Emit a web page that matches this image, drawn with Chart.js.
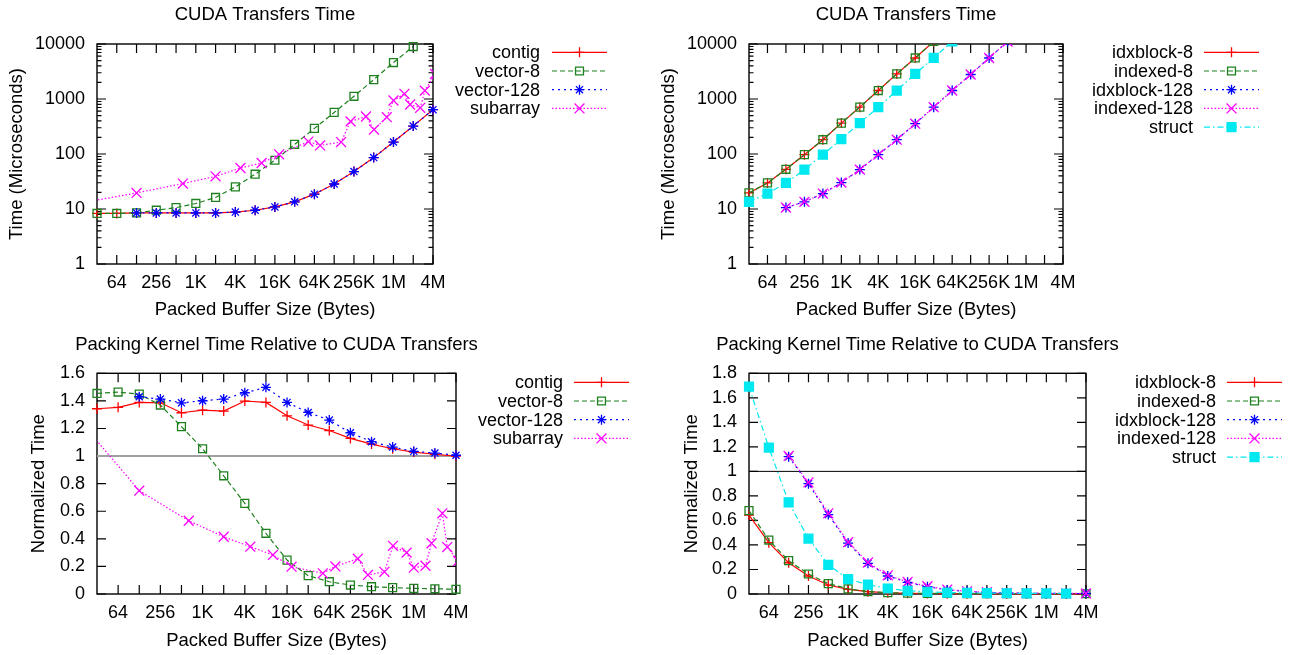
<!DOCTYPE html>
<html>
<head>
<meta charset="utf-8">
<script src="https://cdn.jsdelivr.net/npm/chart.js@4"></script>
<style>
  body { margin: 0; background: #fff; }
  #wrap { position: relative; width: 1290px; height: 655px; }
  canvas { position: absolute; }
</style>
</head>
<body>
<div id="wrap">
  <canvas id="c1" width="640" height="322" style="left:0;top:0"></canvas>
  <canvas id="c2" width="650" height="322" style="left:640px;top:0"></canvas>
  <canvas id="c3" width="640" height="333" style="left:0;top:322px"></canvas>
  <canvas id="c4" width="650" height="333" style="left:640px;top:322px"></canvas>
</div>
<script>
// buffer sizes (bytes), one per octave
const sizes = [32, 64, 128, 256, 512, 1024, 2048, 4096, 8192, 16384, 32768, 65536,
  131072, 262144, 524288, 1048576, 2097152, 4194304];
const subarraySizes = [16, 128, 650, 2048, 4900, 10300, 19000, 53000, 80000, 167000, 233000,
  400000, 530000, 830000, 1050000, 1540000, 1880000, 2680000, 3150000, 4500000];

// x tick marks and their labels
const xTickSizes = [64, 128, 256, 512, 1024, 2048, 4096, 8192, 16384, 32768, 65536,
  131072, 262144, 524288, 1048576, 2097152, 4194304];
const xTickLabels = ['64', '', '256', '', '1K', '', '4K', '', '16K', '', '64K', '', '256K', '', '1M', '', '4M'];
const yTicksLog = [1, 10, 100, 1000, 10000];
const yTicksNorm16 = [0, 0.2, 0.4, 0.6, 0.8, 1, 1.2, 1.4, 1.6];
const yTicksNorm18 = [0, 0.2, 0.4, 0.6, 0.8, 1, 1.2, 1.4, 1.6, 1.8];

// top left: CUDA transfer time (us)
const contigTime = [8.3, 8.3, 8.5, 8.5, 8.5, 8.5, 8.5, 8.8, 9.5, 10.9, 13.5, 18.6, 28.5, 47.9, 86, 165, 322, 640];
const vector8Time = [8.3, 8.3, 8.5, 9.5, 10.6, 12.6, 16.2, 25.3, 42.9, 77, 150, 292, 570, 1120, 2250, 4600, 9000];
const vector128Time = [null, null, 8.5, 8.5, 8.5, 8.5, 8.5, 8.8, 9.5, 10.9, 13.5, 18.6, 28.5, 47.9, 86, 165, 322, 640];
const subarrayTime = [12.5, 19.6, 29, 39.3, 55.6, 68.6, 98.5, 168, 143, 165, 392, 480, 278, 467, 940, 1240, 795, 690, 1420, 2850];

// top right
const idxblock8Time = [19.6, 29.8, 52.7, 97.2, 182, 365, 711, 1426, 2858, 5570, 11100];
const indexed8Time = [19.6, 29.8, 52.7, 97.2, 182, 365, 711, 1426, 2858, 5570, 11100];
const idxblock128Time = [null, null, 10.6, 13.5, 19.1, 30.2, 52, 97.2, 182, 356, 711, 1426, 2790, 5570, 11100];
const indexed128Time = [null, null, 10.6, 13.5, 19.1, 30.2, 52, 97.2, 182, 356, 711, 1426, 2790, 5570, 11100];
const structTime = [13.5, 19.1, 29.8, 52, 97.2, 187, 365, 711, 1426, 2858, 5570, 11100];

// bottom left: packing kernel time / transfer time
const contigNorm = [1.343, 1.353, 1.389, 1.386, 1.314, 1.333, 1.326, 1.399, 1.389, 1.292, 1.225, 1.185, 1.128, 1.087, 1.053, 1.029, 1.013, 1.0];
const vector8Norm = [1.454, 1.464, 1.449, 1.37, 1.213, 1.053, 0.857, 0.657, 0.44, 0.246, 0.133, 0.089, 0.065, 0.053, 0.046, 0.041, 0.038, 0.034];
const vector128Norm = [null, null, 1.43, 1.413, 1.386, 1.401, 1.413, 1.459, 1.498, 1.389, 1.316, 1.261, 1.169, 1.104, 1.065, 1.034, 1.022, 1.006];
const subarrayNorm = [1.29, 0.749, 0.531, 0.415, 0.343, 0.283, 0.198, 0.15, 0.2, 0.256, 0.138, 0.161, 0.349, 0.30, 0.191, 0.205, 0.368, 0.585, 0.34, 0.24];

// bottom right
const idxblock8Norm = [0.644, 0.419, 0.255, 0.147, 0.073, 0.038, 0.019, 0.01, 0.006, 0.004, 0.003, 0.002, 0.002, 0.001, 0.001, 0.001, 0.001, 0.001];
const indexed8Norm = [0.68, 0.44, 0.272, 0.163, 0.085, 0.042, 0.02, 0.011, 0.007, 0.005, 0.004, 0.003, 0.002, 0.002, 0.002, 0.002, 0.002, 0.002];
const idxblock128Norm = [null, null, 1.12, 0.9, 0.648, 0.415, 0.25, 0.147, 0.095, 0.06, 0.033, 0.02, 0.012, 0.008, 0.006, 0.005, 0.004, 0.004];
const indexed128Norm = [null, null, 1.126, 0.91, 0.658, 0.423, 0.257, 0.152, 0.099, 0.063, 0.036, 0.022, 0.014, 0.009, 0.007, 0.006, 0.005, 0.005];
const structNorm = [1.691, 1.194, 0.748, 0.452, 0.238, 0.122, 0.076, 0.045, 0.026, 0.018, 0.012, 0.009, 0.007, 0.006, 0.005, 0.005, 0.004];

const FONT = 'Liberation Sans, Arial, Helvetica, sans-serif';
Chart.defaults.font.family = FONT;
Chart.defaults.color = '#000';

const RED = {color: '#ff0000', dash: [], point: 'cross', r: 5};
const GREEN = {color: '#1f801f', dash: [5, 3], point: 'rect', r: 5.6};
const BLUE = {color: '#0000ff', dash: [2, 4], point: 'star', r: 5};
const MAGENTA = {color: '#ff00ff', dash: [1.5, 2], point: 'crossRot', r: 7};
const CYAN = {color: '#00e8f0', dash: [6, 3, 1.5, 3], point: 'rect', r: 6.3, fill: '#00e8f0'};

function series(label, xs, ys, st, clip) {
    const data = [];
    xs.forEach((x, i) => { if (ys[i] != null) data.push({x: x, y: ys[i]}); });
    const bg = st.fill || 'rgba(0,0,0,0)';
    return {
        label: label, data: data,
        borderColor: st.color, backgroundColor: bg, borderWidth: 1.2, borderDash: st.dash,
        pointStyle: st.point, pointRadius: st.r, pointHoverRadius: st.r, pointBorderWidth: 1.3,
        pointBorderColor: st.color, pointBackgroundColor: bg,
        tension: 0, fill: false,
        clip: clip || 9
    };
}

function refLine(color, width) {
    return {label: '', data: [{x: 32, y: 1}, {x: 4194304, y: 1}], borderColor: color,
        borderWidth: width, pointRadius: 0, fill: false, clip: 0};
}

const minorLog = [];
[1, 10, 100, 1000].forEach(d => { for (let k = 2; k < 10; k++) minorLog.push(k * d); });

// gnuplot style box with inward mirrored ticks, plus the title centred on the plot
const gnuFrame = {
    id: 'gnuFrame',
    beforeDatasetsDraw(chart, args, o) {
        const {ctx, chartArea: a} = chart;
        const x = chart.scales.x, y = chart.scales.y;
        ctx.save();
        ctx.strokeStyle = '#000';
        ctx.lineWidth = 1.2;
        ctx.beginPath();
        o.xTicks.forEach(v => {
            const p = x.getPixelForValue(v);
            ctx.moveTo(p, a.bottom); ctx.lineTo(p, a.bottom - 9);
            ctx.moveTo(p, a.top); ctx.lineTo(p, a.top + 9);
        });
        o.yMajor.forEach(v => {
            const p = y.getPixelForValue(v);
            ctx.moveTo(a.left, p); ctx.lineTo(a.left + 9, p);
            ctx.moveTo(a.right, p); ctx.lineTo(a.right - 9, p);
        });
        (o.yMinor || []).forEach(v => {
            const p = y.getPixelForValue(v);
            ctx.moveTo(a.left, p); ctx.lineTo(a.left + 4.5, p);
            ctx.moveTo(a.right, p); ctx.lineTo(a.right - 4.5, p);
        });
        ctx.stroke();
        ctx.lineWidth = 1.4;
        ctx.strokeRect(a.left, a.top, a.right - a.left, a.bottom - a.top);

        ctx.font = '18.5px ' + FONT;
        ctx.fillStyle = '#000';
        ctx.textAlign = 'center';
        ctx.textBaseline = 'middle';
        ctx.fillText(o.title, (a.left + a.right) / 2, o.titleY);
        ctx.restore();
    }
};

// key drawn like gnuplot: right aligned text, then line sample with the point
const gnuLegend = {
    id: 'gnuLegend',
    afterDraw(chart, args, o) {
        const ctx = chart.ctx;
        let row = 0;
        chart.data.datasets.forEach(ds => {
            if (!ds.label) return;
            const yy = o.top + row * o.step;
            row++;
            ctx.save();
            ctx.font = '18px ' + FONT;
            ctx.fillStyle = '#000';
            ctx.textAlign = 'right';
            ctx.textBaseline = 'middle';
            ctx.fillText(ds.label, o.textRight, yy + 1);
            ctx.strokeStyle = ds.borderColor;
            ctx.lineWidth = ds.borderWidth;
            ctx.setLineDash(ds.borderDash || []);
            ctx.beginPath();
            ctx.moveTo(o.lineFrom, yy);
            ctx.lineTo(o.lineTo, yy);
            ctx.stroke();
            ctx.setLineDash([]);
            ctx.fillStyle = ds.pointBackgroundColor;
            ctx.lineWidth = ds.pointBorderWidth;
            Chart.helpers.drawPoint(ctx, {pointStyle: ds.pointStyle, radius: ds.pointRadius,
                rotation: 0, borderWidth: ds.pointBorderWidth}, (o.lineFrom + o.lineTo) / 2, yy);
            ctx.restore();
        });
    }
};

function makeChart(id, cfg) {
    const canvas = document.getElementById(id);
    const W = canvas.width, H = canvas.height;
    cfg.datasets.forEach((ds, i) => { ds.order = -i; });
    return new Chart(canvas, {
        type: 'line',
        data: {datasets: cfg.datasets},
        plugins: [gnuFrame, gnuLegend],
        options: {
            responsive: false,
            animation: false,
            events: [],
            layout: {padding: {left: 0, top: cfg.area.top, bottom: 0, right: W - cfg.area.right}},
            scales: {
                x: {
                    type: 'logarithmic', min: 32, max: 4194304,
                    afterBuildTicks: s => { s.ticks = xTickSizes.map(v => ({value: v})); },
                    afterFit: s => { s.height = H - cfg.area.bottom; },
                    grid: {display: false, drawTicks: false}, border: {display: false},
                    ticks: {autoSkip: false, maxRotation: 0, minRotation: 0, padding: 8.2,
                        font: {size: 18}, color: '#000',
                        callback: (v, i) => xTickLabels[i]},
                    title: {display: true, text: 'Packed Buffer Size (Bytes)', font: {size: 18.5},
                        color: '#000', padding: {top: 0, bottom: cfg.xTitlePad}}
                },
                y: {
                    type: cfg.yType, min: cfg.yMin, max: cfg.yMax,
                    afterBuildTicks: s => { s.ticks = cfg.yTicks.map(v => ({value: v})); },
                    afterFit: s => { s.width = cfg.area.left; },
                    grid: {display: false, drawTicks: false}, border: {display: false},
                    ticks: {autoSkip: false, padding: 12, font: {size: 18}, color: '#000',
                        callback: v => String(Math.round(v * 10) / 10)},
                    title: {display: true, text: cfg.yTitle, font: {size: 18.5}, color: '#000',
                        padding: {top: cfg.yTitlePad, bottom: 0}}
                }
            },
            plugins: {
                legend: {display: false},
                tooltip: {enabled: false},
                title: {display: false},
                gnuFrame: {xTicks: xTickSizes, yMajor: cfg.yTicks, yMinor: cfg.yMinor,
                    title: cfg.title, titleY: cfg.titleY},
                gnuLegend: cfg.legend
            }
        }
    });
}

const clipTop = {left: 9, top: 0, right: 9, bottom: 9};
const clipSides = {left: 0, top: 9, right: 0, bottom: 9};

makeChart('c1', {
    title: 'CUDA Transfers Time', titleY: 15,
    area: {left: 97, right: 433, top: 44, bottom: 264},
    yType: 'logarithmic', yMin: 1, yMax: 10000, yTicks: yTicksLog, yMinor: minorLog,
    yTitle: 'Time (Microseconds)', yTitlePad: 5.9, xTitlePad: 0.9,
    legend: {textRight: 540, lineFrom: 552, lineTo: 607, top: 52.3, step: 18.7},
    datasets: [
        series('contig', sizes, contigTime, RED),
        series('vector-8', sizes, vector8Time, GREEN),
        series('vector-128', sizes, vector128Time, BLUE),
        series('subarray', subarraySizes, subarrayTime, MAGENTA, clipSides)
    ]
});

makeChart('c2', {
    title: 'CUDA Transfers Time', titleY: 15,
    area: {left: 109, right: 423, top: 44, bottom: 264},
    yType: 'logarithmic', yMin: 1, yMax: 10000, yTicks: yTicksLog, yMinor: minorLog,
    yTitle: 'Time (Microseconds)', yTitlePad: 18.2, xTitlePad: 0.9,
    legend: {textRight: 553, lineFrom: 564, lineTo: 619, top: 52.3, step: 18.7},
    datasets: [
        series('idxblock-8', sizes, idxblock8Time, RED, clipTop),
        series('indexed-8', sizes, indexed8Time, GREEN, clipTop),
        series('idxblock-128', sizes, idxblock128Time, BLUE, clipTop),
        series('indexed-128', sizes, indexed128Time, MAGENTA, clipTop),
        series('struct', sizes, structTime, CYAN, clipTop)
    ]
});

makeChart('c3', {
    title: 'Packing Kernel Time Relative to CUDA Transfers', titleY: 23,
    area: {left: 97, right: 456, top: 51.3, bottom: 272},
    yType: 'linear', yMin: 0, yMax: 1.6, yTicks: yTicksNorm16,
    yTitle: 'Normalized Time', yTitlePad: 28.2, xTitlePad: 2.9,
    legend: {textRight: 563, lineFrom: 574, lineTo: 629, top: 60.3, step: 18.7},
    datasets: [
        refLine('#a0a0a0', 2),
        series('contig', sizes, contigNorm, RED),
        series('vector-8', sizes, vector8Norm, GREEN),
        series('vector-128', sizes, vector128Norm, BLUE),
        series('subarray', subarraySizes, subarrayNorm, MAGENTA, clipSides)
    ]
});

makeChart('c4', {
    title: 'Packing Kernel Time Relative to CUDA Transfers', titleY: 23,
    area: {left: 109, right: 446, top: 51.3, bottom: 272},
    yType: 'linear', yMin: 0, yMax: 1.8, yTicks: yTicksNorm18,
    yTitle: 'Normalized Time', yTitlePad: 40.6, xTitlePad: 2.9,
    legend: {textRight: 576, lineFrom: 587, lineTo: 642, top: 60.3, step: 18.7},
    datasets: [
        refLine('#000000', 1),
        series('idxblock-8', sizes, idxblock8Norm, RED),
        series('indexed-8', sizes, indexed8Norm, GREEN),
        series('idxblock-128', sizes, idxblock128Norm, BLUE),
        series('indexed-128', sizes, indexed128Norm, MAGENTA),
        series('struct', sizes, structNorm, CYAN)
    ]
});
</script>
</body>
</html>
